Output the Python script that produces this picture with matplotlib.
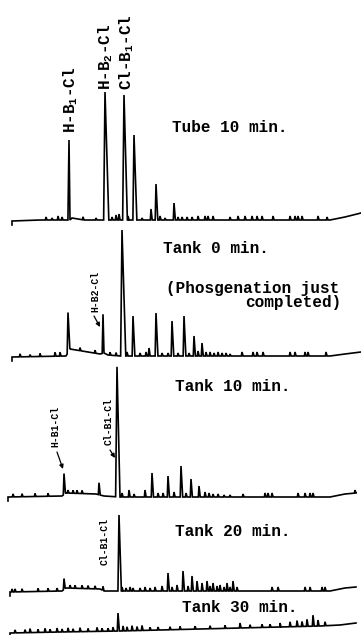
import numpy as np
import matplotlib
matplotlib.use('Agg')
import matplotlib.pyplot as plt

plt.rcParams['font.family'] = ['Liberation Mono', 'DejaVu Sans Mono']
plt.rcParams['mathtext.default'] = 'regular'

# ---------------- data (retention in chart units, peak heights, baseline drift) ----
titles = ["Tube 10 min.", "Tank 0 min.", "Tank 10 min.", "Tank 20 min.", "Tank 30 min."]

tube10_x = [46, 52, 58, 62, 69, 83, 96, 105, 112, 116, 119, 124, 128, 134, 142, 151, 156,
            160, 165, 174, 178, 182, 187, 192, 198, 205, 208, 213, 230, 238, 245, 252, 257,
            262, 273, 290, 295, 298, 302, 318, 327]
tube10_h = [3, 2, 4, 3, 80, 3, 2, 128, 3, 5, 6, 125, 4, 85, 2, 11, 36,
            4, 2, 17, 3, 3, 3, 3, 4, 4, 4, 4, 3, 4, 4, 4, 4,
            4, 4, 4, 4, 4, 4, 4, 3]
tube10_bx = [12, 40, 70, 72, 84, 330, 345, 361]
tube10_bd = [-1, 0, 0, 2, 0, 0, 3, 7]

tank0_x = [20, 30, 40, 55, 60, 68, 80, 95, 103, 110, 116, 122, 127, 133, 140, 146, 149,
           156, 162, 168, 172, 178, 184, 189, 194, 198, 202, 206, 210, 214, 218, 222, 226,
           230, 242, 253, 257, 263, 290, 295, 305, 308, 326]
tank0_h = [3, 2, 3, 4, 4, 40, 3, 3, 39, 3, 3, 126, 4, 40, 3, 4, 8,
           43, 3, 3, 35, 3, 40, 3, 20, 5, 13, 4, 4, 3, 4, 3, 3,
           2, 4, 4, 4, 4, 4, 4, 4, 4, 4]
tank0_bx = [12, 66, 70, 100, 104, 108, 120, 330, 345, 361]
tank0_bd = [-1, 0, 7, 2, 3, 1, 0, 0, 2, 4]

tank10_x = [13, 22, 35, 48, 64, 68, 73, 77, 82, 99, 117, 122, 129, 134, 145, 152, 158,
            163, 168, 174, 181, 186, 191, 199, 205, 209, 213, 218, 224, 230, 243, 265, 268,
            272, 298, 305, 310, 313, 355]
tank10_h = [3, 3, 3, 3, 21, 3, 3, 3, 3, 12, 130, 4, 7, 3, 7, 24, 4,
            4, 21, 5, 31, 4, 18, 11, 5, 4, 3, 3, 2, 2, 3, 4, 4,
            4, 4, 4, 4, 4, 3]
tank10_bx = [8, 62, 66, 96, 104, 120, 330, 345, 356]
tank10_bd = [-1, 0, 3, 2, 0, -1, -1, 2, 3]

tank20_x = [12, 15, 22, 38, 48, 57, 64, 70, 75, 82, 88, 95, 103, 119, 122, 126, 130, 133,
            140, 145, 150, 155, 162, 168, 172, 177, 183, 188, 192, 197, 202, 207, 210, 213,
            217, 220, 224, 227, 230, 233, 237, 272, 278, 305, 310, 322, 325]
tank20_h = [3, 3, 3, 3, 3, 3, 11, 3, 3, 3, 3, 3, 4, 76, 4, 3, 4, 3,
            3, 4, 3, 4, 5, 18, 4, 6, 20, 5, 15, 10, 8, 10, 5, 8,
            5, 6, 4, 8, 4, 10, 4, 4, 4, 4, 4, 4, 4]
tank20_bx = [10, 62, 66, 100, 104, 330, 345, 356]
tank20_bd = [-1, 0, 3, 2, 0, 0, 3, 4]

tank30_x = [15, 25, 30, 38, 45, 50, 57, 62, 68, 73, 80, 88, 97, 102, 108, 113, 118, 123,
            127, 132, 137, 142, 150, 158, 170, 180, 195, 210, 225, 240, 250, 262, 270, 280,
            290, 297, 302, 307, 313, 318, 325]
tank30_h = [3, 3, 4, 3, 4, 3, 4, 3, 4, 3, 4, 3, 4, 3, 3, 4, 18, 5,
            4, 5, 4, 5, 3, 3, 3, 3, 3, 3, 3, 5, 3, 3, 3, 4,
            5, 6, 5, 7, 11, 6, 4]
tank30_bx = [10, 60, 120, 200, 280, 320, 340, 356]
tank30_bd = [-2, -1, 0, 2, 4, 5, 6, 8]

peaks_x = [tube10_x, tank0_x, tank10_x, tank20_x, tank30_x]
peaks_h = [tube10_h, tank0_h, tank10_h, tank20_h, tank30_h]
base_x = [tube10_bx, tank0_bx, tank10_bx, tank20_bx, tank30_bx]
base_d = [tube10_bd, tank0_bd, tank10_bd, tank20_bd, tank30_bd]

# ---------------- layout ----------------
offsets = [415, 279, 139, 44, 4]
title_pos = [(172, 503), (163, 382), (175, 244), (175, 99), (182, 23)]


def build_trace(px, ph, bx, bd, offset):
    px = np.asarray(px, float)
    ph = np.asarray(ph, float)
    bx = np.asarray(bx, float)
    bd = np.asarray(bd, float)
    wl = 0.6 + 0.006 * ph
    wr = 1.0 + 0.022 * ph
    x = np.concatenate([bx, px - wl, px, px + wr])
    y = np.concatenate([bd,
                        np.interp(px - wl, bx, bd),
                        np.interp(px, bx, bd) + ph,
                        np.interp(px + wr, bx, bd)])
    order = np.argsort(x, kind='stable')
    x = x[order]
    y = y[order] + offset
    # pen start hook
    x = np.r_[x[0], x]
    y = np.r_[y[0] - 4, y]
    return x, y


fig = plt.figure(figsize=(3.61, 6.35), dpi=100)
ax = fig.add_axes([0, 0, 1, 1])
ax.set_xlim(0, 361)
ax.set_ylim(0, 635)
ax.axis('off')

for px, ph, bx, bd, off in zip(peaks_x, peaks_h, base_x, base_d, offsets):
    x, y = build_trace(px, ph, bx, bd, off)
    ax.plot(x, y, color='black', lw=1.2, solid_joinstyle='miter')

big = dict(fontsize=11.5, fontweight='bold', color='black')
for t, (tx, ty) in zip(titles, title_pos):
    ax.text(tx, ty, t, ha='left', va='baseline', **big)
ax.text(166, 342, "(Phosgenation just", ha='left', va='baseline', **big)
ax.text(341, 328, "completed)", ha='right', va='baseline', **big)

# peak labels (top chromatogram)
rot = dict(rotation=90, rotation_mode='anchor', ha='left', va='baseline')
ax.text(75, 502, r"H-B$_1$-Cl", **rot, **big)
ax.text(110, 545, r"H-B$_2$-Cl", **rot, **big)
ax.text(131, 545, r"Cl-B$_1$-Cl", **rot, **big)

small = dict(fontsize=7, fontweight='bold', color='black')
ax.text(98, 323, "H-B2-Cl", **rot, **small)
ax.text(58, 188, "H-B1-Cl", **rot, **small)
ax.text(112, 190, "Cl-B1-Cl", **rot, **small)
ax.text(108, 70, "Cl-B1-Cl", **rot, **small)

arr = dict(arrowstyle='-|>', lw=0.9, color='black', mutation_scale=6,
           shrinkA=0, shrinkB=0)
ax.annotate('', xy=(100, 308), xytext=(94, 319), arrowprops=arr)
ax.annotate('', xy=(63, 166), xytext=(57, 183), arrowprops=arr)
ax.annotate('', xy=(115, 177), xytext=(110, 185), arrowprops=arr)

fig.savefig('out.png', dpi=100, facecolor='white')
